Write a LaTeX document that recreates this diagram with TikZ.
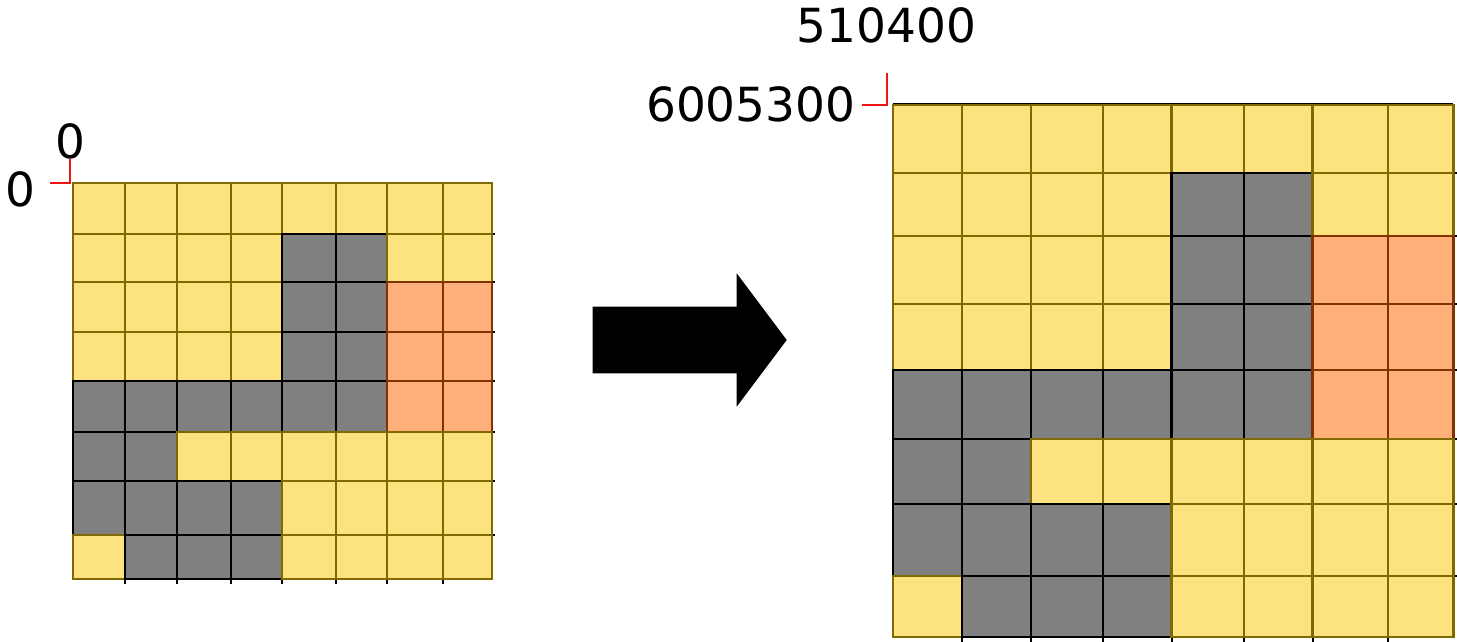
\documentclass[tikz,border=0pt]{standalone}
\usepackage{fontspec}
\setmainfont{DejaVu Sans}

\definecolor{cellyellow}{RGB}{253,227,128}
\definecolor{cellyellowline}{RGB}{128,106,0}
\definecolor{cellgray}{RGB}{128,128,128}
\definecolor{cellorange}{RGB}{255,175,122}
\definecolor{cellorangeline}{RGB}{128,51,0}
\definecolor{markred}{RGB}{240,20,20}

\tikzset{
  cellline/.style={line width=2.2pt, line join=miter},
  cell0/.style={fill=cellyellow, draw=cellyellowline},
  cell1/.style={fill=cellgray, draw=black},
  cell2/.style={fill=cellorange, draw=cellorangeline},
  gridtick/.style={draw=black, line width=2pt},
  originmark/.style={draw=markred, line width=2pt},
  coordtext/.style={inner sep=0pt, font=\fontsize{47}{50}\selectfont},
  bigarrow/.style={fill=black},
}

% class of each raster cell, row by row from the top:
% 0 = yellow, 1 = gray, 2 = orange
\def\cellmap{{0,0,0,0,0,0,0,0,
              0,0,0,0,1,1,0,0,
              0,0,0,0,1,1,2,2,
              0,0,0,0,1,1,2,2,
              1,1,1,1,1,1,2,2,
              1,1,0,0,0,0,0,0,
              1,1,1,1,0,0,0,0,
              0,1,1,1,0,0,0,0}}

% cell edges of the small raster
\def\lcols{{73.3,125,176.7,230.7,281.7,335.7,386.7,442.7,492.3}}
\def\lrows{{183.3,234.3,281.7,332.3,381,432.3,481,535,579.3}}
% cell edges of the large raster
\def\rcols{{892.9,961.7,1030.9,1102.7,1171.5,1243.6,1312.5,1387.9,1453.4}}
\def\rrows{{104.7,173.3,235.7,304.3,370,439.3,504.3,576,637}}

% #1 column edges, #2 row edges, #3 length of the bottom ticks, #4 length of the right ticks
\newcommand\drawraster[4]{%
  \pgfmathsetmacro\gridleft{#1[0]}%
  \pgfmathsetmacro\gridright{#1[8]}%
  \pgfmathsetmacro\gridtop{#2[0]}%
  \pgfmathsetmacro\gridbottom{#2[8]}%
  \draw[gridtick, line width=1.2pt] (\gridleft,\gridtop-0.8) -- (\gridright,\gridtop-0.8);
  \foreach \ii in {1,...,7}{
    \pgfmathsetmacro\xt{#1[\ii]}
    \pgfmathsetmacro\yt{#2[\ii]}
    \draw[gridtick] (\xt,\gridbottom) -- ++(0,#3);
    \draw[gridtick] (\gridright,\yt) -- ++(#4,0);
  }
  \foreach \rr in {0,...,7}{
    \foreach \cc in {0,...,7}{
      \pgfmathtruncatemacro\kind{\cellmap[\rr*8+\cc]}
      \pgfmathsetmacro\xa{#1[\cc]}
      \pgfmathsetmacro\xb{#1[\cc+1]}
      \pgfmathsetmacro\ya{#2[\rr]}
      \pgfmathsetmacro\yb{#2[\rr+1]}
      \draw[cellline, cell\kind] (\xa,\ya) rectangle (\xb,\yb);
    }
  }
}

\begin{document}
\begin{tikzpicture}[x=1pt, y=-1pt]
  \useasboundingbox (0,0) rectangle (1457,641);

  % small raster with its origin
  \drawraster{\lcols}{\lrows}{5}{3}
  \draw[originmark] (50,182.6) -- (70,182.6) -- (70,159.3);
  \node[coordtext] (lefty) at (20.3,189) {0};
  \node[coordtext] (leftx) at (70,141.5) {0};

  % transformation arrow
  \path[bigarrow] (592.7,306.7) -- (736.7,306.7) -- (736.7,273.3) -- (786.7,340)
    -- (736.7,406.7) -- (736.7,373.3) -- (592.7,373.3) -- cycle;

  % large raster with its origin
  \drawraster{\rcols}{\rrows}{6}{4}
  \draw[originmark] (861.7,105) -- (887.3,105) -- (887.3,73.3);
  \node[coordtext] (righty) at (750.8,104.7) {6005300};
  \node[coordtext] (rightx) at (886.5,25.8) {510400};
\end{tikzpicture}
\end{document}
